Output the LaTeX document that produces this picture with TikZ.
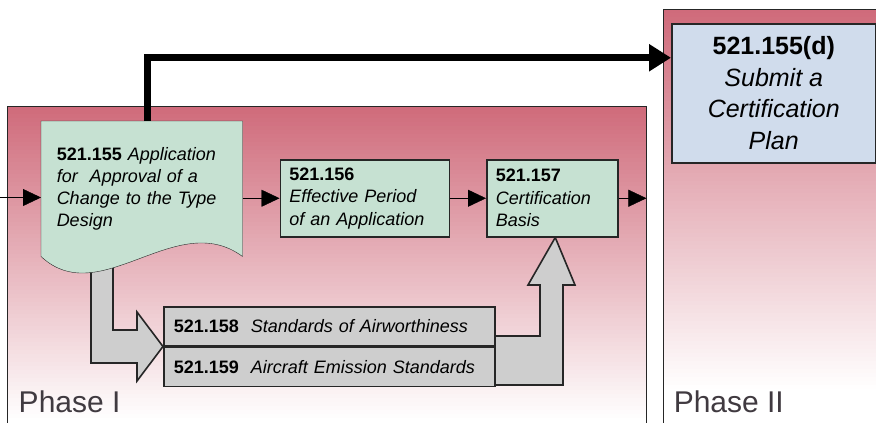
\documentclass[tikz,border=0pt]{standalone}
\usepackage{fontspec}
\setmainfont{Liberation Sans}
\usepackage{tikz}
\usetikzlibrary{arrows.meta,positioning,backgrounds}

\definecolor{phaserose}{RGB}{207,106,122}
\definecolor{secgreen}{RGB}{198,225,210}
\definecolor{stdgray}{RGB}{206,206,206}
\definecolor{planblue}{RGB}{208,220,236}
\definecolor{edgegray}{RGB}{38,38,38}
\definecolor{labelgray}{RGB}{64,58,64}

\pgfdeclarelayer{panels}
\pgfsetlayers{panels,background,main}

\begin{document}
\begin{tikzpicture}[x=1pt,y=-1pt,>={Triangle[length=18pt,width=17pt]},line width=1.5pt]
      \tikzstyle{phase}=[draw=edgegray,fill=none,anchor=north west]
      \tikzstyle{docbox}=[draw=none,align=left,text width=170pt,inner xsep=15pt,minimum height=134pt,font=\fontsize{18}{22}\selectfont]
      \tikzstyle{secbox}=[draw=edgegray,fill=secgreen,align=left,inner xsep=9pt,minimum height=77pt,font=\fontsize{18}{22.5}\selectfont]
      \tikzstyle{stdbox}=[draw=edgegray,fill=stdgray,align=left,inner xsep=10pt,text width=311pt,minimum height=39pt,font=\fontsize{18}{22}\selectfont]
      \tikzstyle{planbox}=[draw=edgegray,fill=planblue,align=center,minimum width=204pt,minimum height=139pt,font=\fontsize{25}{31.5}\selectfont]
      \tikzstyle{phaselabel}=[inner sep=0pt,anchor=base west,text=labelgray,font=\fontsize{30}{36}\selectfont]
      \tikzstyle{hollowarrow}=[fill=stdgray,draw=edgegray,line width=1.6pt]
      \tikzstyle{bigflow}=[-{Triangle[length=22pt,width=26pt]},line width=7pt]

      \useasboundingbox (0,0) rectangle (876,423);

      % sections of phase I
      \node[docbox,anchor=north west] (doc) at (41,121)
            {\textbf{521.155} \textit{Application}\\\textit{for\ \ Approval of a}\\\textit{Change to the Type}\\\textit{Design}};
      \node[secbox,text width=151pt] (period) [right=37pt of doc,yshift=-9.5pt]
            {\textbf{521.156}\\\textit{Effective Period}\\\textit{of an Application}};
      \node[secbox,text width=113pt] (basis) [right=36pt of period]
            {\textbf{521.157}\\\textit{Certification}\\\textit{Basis}};
      \node[stdbox,anchor=north west] (std1) at (163,306)
            {\textbf{521.158}\ \ \textit{Standards of Airworthiness}};
      \node[stdbox] (std2) [below=0pt of std1]
            {\textbf{521.159}\ \ \textit{Aircraft Emission Standards}};

      % phase II
      \node[planbox,anchor=north west] (plan) at (671,23)
            {\textbf{521.155(d)}\\\textit{Submit a}\\\textit{Certification}\\\textit{Plan}};

      \node[phaselabel] (ph1) at (18,412) {Phase I};
      \node[phaselabel] (ph2) at (673,412) {Phase II};

      % fading panels
      \begin{pgfonlayer}{panels}
        \clip (0,0) rectangle (876,423);
        \foreach \i [evaluate=\i as \pct using {max(0,100-(4*\i+2)/3.14)}] in {0,...,79}
          \fill[phaserose!\pct!white] (7,106+4*\i) rectangle (646,110.5+4*\i);
        \foreach \i [evaluate=\i as \pct using {max(0,100-(4*\i+2)/3.81)}] in {0,...,104}
          \fill[phaserose!\pct!white] (663,9+4*\i) rectangle (880,13.5+4*\i);
        \node[phase,minimum width=639pt,minimum height=340pt] (p1) at (7,106) {};
        \node[phase,minimum width=260pt,minimum height=440pt] (p2) at (663,9) {};
      \end{pgfonlayer}

      \begin{scope}[on background layer]
        % hollow arrows
        \path[hollowarrow] (91,262) -- (91,363) -- (137,363) -- (137,381)
              -- (std1.south west) -- (137,312) -- (137,330) -- (113,330) -- (113,262) -- cycle;
        \path[hollowarrow] (493,336) -- (540,336) -- (540,285) -- (528,285)
              -- ([xshift=3pt]basis.south) -- (575,285) -- (563,285) -- (563,385) -- (493,385) -- cycle;
        % document outline
        \filldraw[draw=edgegray,fill=secgreen] (doc.south west) -- (doc.north west) -- (doc.north east)
              -- (doc.south east) .. controls +(-66,-49) and +(59,55) .. (doc.south west) -- cycle;
      \end{scope}

      \coordinate (src) at (0,197.5);
      \path[->] (src) edge (src -| doc.west)
            (doc.east |- period.west) edge (period)
            (period) edge (basis)
            (basis.east) edge (basis.east -| p1.east);
      \draw[bigflow] ([xshift=6pt]doc.north) |- ([yshift=35.5pt]plan.west);
\end{tikzpicture}
\end{document}
